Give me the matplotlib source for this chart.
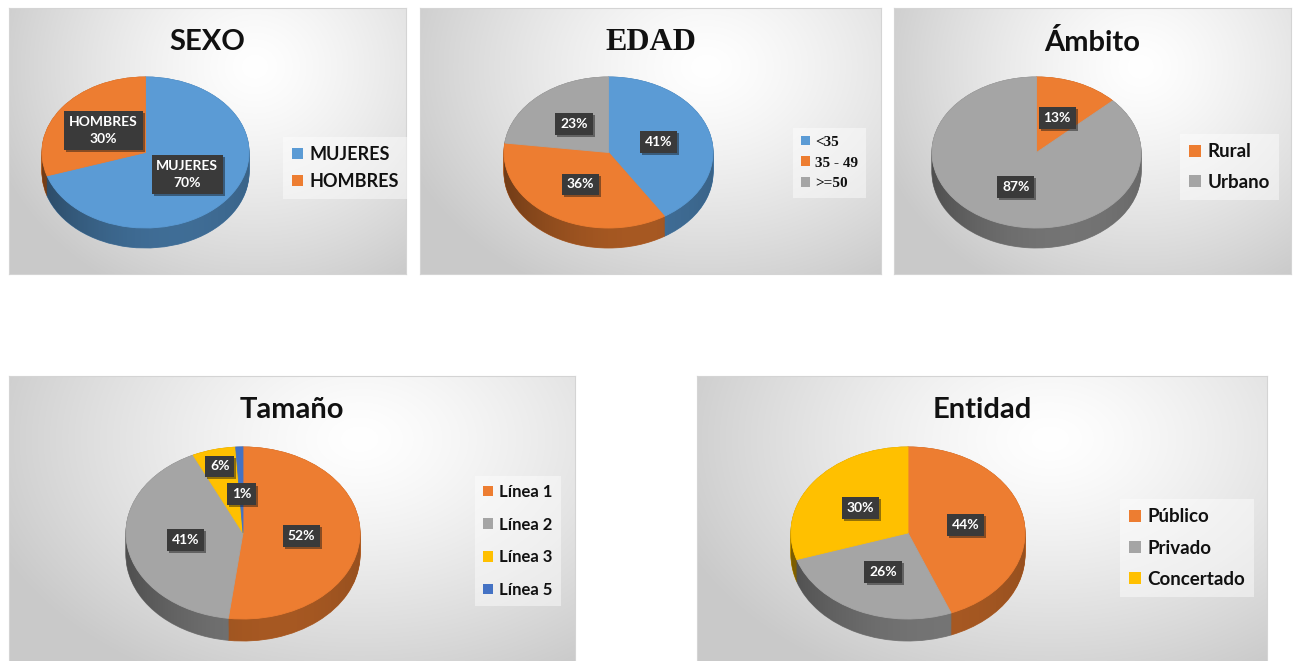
# Five Excel-style 3D pie charts (survey profile), each in its own gradient panel.
import numpy as np
import matplotlib.pyplot as plt
from matplotlib.patches import Patch, Polygon
from matplotlib import patheffects as pe
from matplotlib.colors import to_rgb

W, H = 1296, 661

# data
sexo_labels = ["MUJERES", "HOMBRES"]
sexo_values = [70, 30]
edad_labels = ["<35", "35 - 49", ">=50"]
edad_values = [41, 36, 23]
ambito_labels = ["Rural", "Urbano"]
ambito_values = [13, 87]
tamano_labels = ["Línea 1", "Línea 2", "Línea 3", "Línea 5"]
tamano_values = [52, 41, 6, 1]
entidad_labels = ["Público", "Privado", "Concertado"]
entidad_values = [44, 26, 30]

BLUE = "#5B9BD5"
ORANGE = "#ED7D31"
GRAY = "#A5A5A5"
YELLOW = "#FFC000"
DBLUE = "#4472C4"

fig = plt.figure(figsize=(W / 100, H / 100), dpi=100)
fig.patch.set_facecolor("white")


def px_axes(l, t, w, h):
	return fig.add_axes([l / W, 1 - (t + h) / H, w / W, h / H])


def shade(c, f):
	r, g, b = to_rgb(c)
	return (r * f, g * f, b * f)


# panel with light radial gradient + title
def _panel(box, title, tfont, tsize, ty):
	l, t, w, h = box
	ax = px_axes(l, t, w, h)
	xx, yy = np.meshgrid(np.linspace(0, 1, w), np.linspace(0, 1, h))
	d = np.sqrt(((xx - 0.62) / 0.7) ** 2 + ((yy - 0.22) / 0.95) ** 2)
	v = 1 - 0.21 * np.clip(d, 0, 1) ** 1.3
	ax.imshow(np.dstack([v, v, v]), extent=(0, 1, 0, 1), origin="upper", aspect="auto", interpolation="bilinear")
	ax.set_xlim(0, 1)
	ax.set_ylim(0, 1)
	ax.set_xticks([])
	ax.set_yticks([])
	for s in ax.spines.values():
		s.set_color("#d4d4d4")
		s.set_linewidth(0.8)
	ax.text(0.5, 1 - (ty - t) / h, title, ha="center", va="center", family=tfont, fontsize=tsize,
			fontweight="bold", color="#111111")
	return ax


# pseudo 3D pie: stacked dark pies for the side, shading overlay, top pie on top
def _pie3d(box, values, colors, texts, lab_r, depth):
	l, t, w, h = box
	ax = px_axes(l, t, w, h)
	ry = (h - depth) / 2
	dd = depth / ry
	dark = [shade(c, 0.74) for c in colors]
	nl = 24
	for k in range(nl):
		off = -dd + dd * k / (nl - 1)
		ws, _ = ax.pie(values, colors=dark, startangle=90, counterclock=False, center=(0, off),
					   wedgeprops=dict(linewidth=0.6))
		for wd in ws:
			wd.set_edgecolor(wd.get_facecolor())
	# side shading (darker on the left)
	th = np.linspace(np.pi, 2 * np.pi, 200)
	pts = np.vstack([np.c_[np.cos(th), np.sin(th)], np.c_[np.cos(th[::-1]), np.sin(th[::-1]) - dd]])
	clip = Polygon(pts, closed=True, fc="none", ec="none")
	ax.add_patch(clip)
	gx = np.linspace(-1, 1, 200)
	alpha = 0.05 + 0.3 * ((gx - 0.3) / 1.3) ** 2
	sh = np.zeros((2, 200, 4))
	sh[:, :, 3] = alpha
	im = ax.imshow(sh, extent=(-1, 1, -1 - dd, 0), aspect="auto", interpolation="bilinear", zorder=2)
	im.set_clip_path(clip)
	wedges, _ = ax.pie(values, colors=colors, startangle=90, counterclock=False, wedgeprops=dict(linewidth=0.6))
	for wd in wedges:
		wd.set_edgecolor(wd.get_facecolor())
		wd.set_zorder(3)
	for wd, txt, r in zip(wedges, texts, lab_r):
		a = np.deg2rad((wd.theta1 + wd.theta2) / 2)
		tx = ax.text(r * np.cos(a), r * np.sin(a), txt, ha="center", va="center", color="white",
					 family="Lato", fontweight="bold", fontsize=10, linespacing=1.5, zorder=5,
					 bbox=dict(boxstyle="square,pad=0.35", fc="#3a3a3a", ec="none"))
		tx.get_bbox_patch().set_path_effects([pe.SimplePatchShadow(offset=(1.5, -1.5), alpha=0.45), pe.Normal()])
	ax.set_aspect("auto")
	ax.set_xlim(-1, 1)
	ax.set_ylim(-1 - dd, 1)
	ax.axis("off")
	return ax


def _legend(ax, labels, colors, anchor, lfont, lsize, lspace):
	handles = [Patch(facecolor=c, edgecolor="none") for c in colors]
	leg = ax.legend(handles, labels, loc="center left", bbox_to_anchor=(anchor[0] / W, 1 - anchor[1] / H),
					bbox_transform=fig.transFigure, frameon=True, fancybox=False,
					prop=dict(family=lfont, weight="bold", size=lsize), handlelength=0.6, handleheight=0.6,
					handletextpad=0.35, labelspacing=lspace, borderpad=0.5, borderaxespad=0)
	fr = leg.get_frame()
	fr.set_facecolor("white")
	fr.set_alpha(0.45)
	fr.set_edgecolor("none")
	for tx in leg.get_texts():
		tx.set_color("#111111")


charts = [
	dict(box=(9, 8, 397, 266), title="SEXO", tfont="Lato", tsize=21, ty=42,
		 pie=(42, 77, 207, 171), depth=20, values=sexo_values, labels=sexo_labels, colors=[BLUE, ORANGE],
		 names=True, lab_r=[0.5, 0.5], leg=(283, 168), lfont="Lato", lsize=13, lspace=0.55),
	dict(box=(420, 8, 461, 266), title="EDAD", tfont="Liberation Serif", tsize=23, ty=42,
		 pie=(504, 77, 209, 171), depth=20, values=edad_values, labels=edad_labels, colors=[BLUE, ORANGE, GRAY],
		 names=False, lab_r=[0.5, 0.5, 0.5], leg=(793, 163), lfont="Liberation Serif", lsize=11, lspace=0.5),
	dict(box=(894, 8, 397, 266), title="Ámbito", tfont="Lato", tsize=21, ty=42,
		 pie=(932, 77, 209, 171), depth=20, values=ambito_values, labels=ambito_labels, colors=[ORANGE, GRAY],
		 names=False, lab_r=[0.5, 0.5], leg=(1180, 167), lfont="Lato", lsize=13.5, lspace=0.7),
	dict(box=(9, 376, 566, 286), title="Tamaño", tfont="Lato", tsize=21, ty=410,
		 pie=(126, 447, 234, 194), depth=22, values=tamano_values, labels=tamano_labels,
		 colors=[ORANGE, GRAY, YELLOW, DBLUE], names=False, lab_r=[0.5, 0.5, 0.8, 0.45],
		 leg=(475, 541), lfont="Lato", lsize=12, lspace=1.0),
	dict(box=(697, 376, 570, 286), title="Entidad", tfont="Lato", tsize=21, ty=410,
		 pie=(791, 447, 234, 194), depth=22, values=entidad_values, labels=entidad_labels,
		 colors=[ORANGE, GRAY, YELLOW], names=False, lab_r=[0.5, 0.5, 0.5],
		 leg=(1120, 548), lfont="Lato", lsize=13.5, lspace=0.75),
]

for c in charts:
	pax = _panel(c["box"], c["title"], c["tfont"], c["tsize"], c["ty"])
	if c["names"]:
		texts = ["%s\n%d%%" % (n, v) for n, v in zip(c["labels"], c["values"])]
	else:
		texts = ["%d%%" % v for v in c["values"]]
	_pie3d(c["pie"], c["values"], c["colors"], texts, c["lab_r"], c["depth"])
	_legend(pax, c["labels"], c["colors"], c["leg"], c["lfont"], c["lsize"], c["lspace"])

fig.savefig("out.png", dpi=100)
